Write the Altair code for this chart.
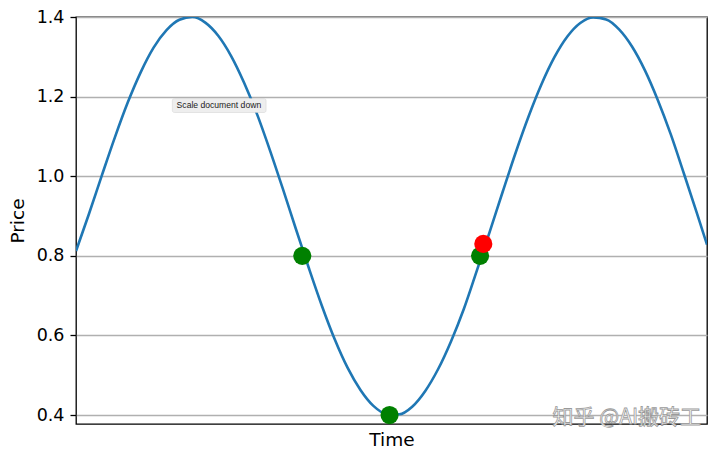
import altair as alt
import pandas as pd

# Price curve (time in arbitrary units, 0 = left edge)
time = [0.0, 0.2, 0.4, 0.6, 0.8, 1.0, 1.2, 1.4, 1.6, 1.8, 2.0, 2.2, 2.4, 2.6, 2.8,
        3.0, 3.2, 3.4, 3.6, 3.8, 4.0, 4.2, 4.4, 4.6, 4.8, 5.0, 5.2, 5.4, 5.6, 5.8,
        6.0, 6.2, 6.4, 6.6, 6.8, 7.0, 7.2, 7.4, 7.6, 7.8, 8.0, 8.2, 8.4, 8.6, 8.8,
        9.0, 9.2, 9.4, 9.6, 9.76]
price = [0.812, 0.905, 1.002, 1.097, 1.185, 1.261, 1.323, 1.367, 1.393, 1.400, 1.386,
         1.353, 1.302, 1.235, 1.156, 1.065, 0.968, 0.868, 0.770, 0.676, 0.591, 0.519,
         0.463, 0.423, 0.403, 0.402, 0.421, 0.460, 0.515, 0.585, 0.667, 0.763, 0.861,
         0.961, 1.059, 1.150, 1.231, 1.299, 1.351, 1.385, 1.399, 1.394, 1.369, 1.326,
         1.266, 1.191, 1.105, 1.008, 0.909, 0.828]

green_time = [3.50, 4.85, 6.25]
green_price = [0.80, 0.40, 0.80]
red_time = [6.30]
red_price = [0.83]

y_ticks = [0.4, 0.6, 0.8, 1.0, 1.2, 1.4]

tip_text = ["Scale document down"]
tip_time = [2.21]
tip_price = [1.178]
tip_box_x = [1.49]
tip_box_x2 = [2.94]
tip_box_y = [1.195]
tip_box_y2 = [1.16]

wm_text = ["知乎 @AI搬砖工"]
wm_time = [8.52]
wm_price = [0.392]

curve = pd.DataFrame({"time": time, "price": price})
greens = pd.DataFrame({"time": green_time, "price": green_price})
reds = pd.DataFrame({"time": red_time, "price": red_price})
tip = pd.DataFrame({"text": tip_text, "time": tip_time, "price": tip_price,
                    "x1": tip_box_x, "x2": tip_box_x2, "y1": tip_box_y, "y2": tip_box_y2})
wm = pd.DataFrame({"text": wm_text, "time": wm_time, "price": wm_price})

xs = alt.Scale(domain=[0, 9.76], nice=False, zero=False)
ys = alt.Scale(domain=[0.3775, 1.4], nice=False, zero=False)

x_enc = alt.X("time:Q", scale=xs,
              axis=alt.Axis(title="Time", labels=False, ticks=False, grid=False,
                            domain=False, titleFontSize=18.5, titleFontWeight="normal",
                            titleFont="DejaVu Sans", titleColor="black", titlePadding=6))
y_enc = alt.Y("price:Q", scale=ys,
              axis=alt.Axis(title="Price", values=y_ticks, format=".1f", grid=True,
                            gridColor="#b0b0b0", gridWidth=1.3, domain=False,
                            tickColor="black", tickSize=6, tickWidth=1.3,
                            labelFontSize=17.5, labelFont="DejaVu Sans", labelColor="black",
                            labelPadding=6, titleFontSize=18.5, titleFontWeight="normal",
                            titleFont="DejaVu Sans", titleColor="black", titlePadding=9))

line = alt.Chart(curve).mark_line(color="#1f77b4", strokeWidth=2.6,
                                  interpolate="monotone", clip=True).encode(x=x_enc, y=y_enc)

gpts = alt.Chart(greens).mark_circle(color="green", size=330, opacity=1).encode(
    x=alt.X("time:Q", scale=xs), y=alt.Y("price:Q", scale=ys))
rpts = alt.Chart(reds).mark_circle(color="red", size=330, opacity=1).encode(
    x=alt.X("time:Q", scale=xs), y=alt.Y("price:Q", scale=ys))

tip_box = alt.Chart(tip).mark_rect(fill="#eeeeee", stroke="#d0d0d0", strokeWidth=0.5,
                                   cornerRadius=2).encode(
    x=alt.X("x1:Q", scale=xs), x2="x2:Q",
    y=alt.Y("y1:Q", scale=ys), y2="y2:Q")
tip_txt = alt.Chart(tip).mark_text(fontSize=8.6, font="Liberation Sans", color="#222222").encode(
    x=alt.X("time:Q", scale=xs), y=alt.Y("price:Q", scale=ys), text="text:N")

wm_txt = alt.Chart(wm).mark_text(fontSize=21, font="Noto Sans CJK SC", color="white",
                                 stroke="#9a9a9a", strokeWidth=0.8).encode(
    x=alt.X("time:Q", scale=xs), y=alt.Y("price:Q", scale=ys), text="text:N")

chart = alt.layer(line, gpts, rpts, tip_box, tip_txt, wm_txt).properties(
    width=631, height=407,
    autosize=alt.AutoSizeParams(type="none"),
    padding={"left": 68, "top": 9, "right": 5, "bottom": 26},
).configure(background="white").configure_view(stroke="black", strokeWidth=1.3)

chart.save("out.html", embed_options={"renderer": "svg", "actions": False})
